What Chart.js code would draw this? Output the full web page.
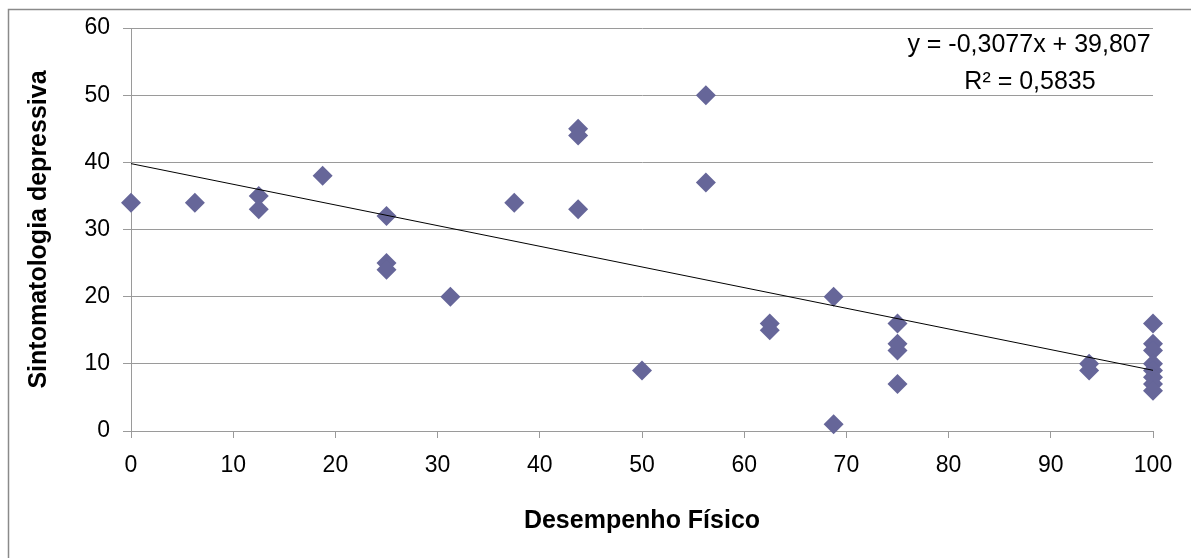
<!DOCTYPE html>
<html>
<head>
<meta charset="utf-8">
<script src="https://cdn.jsdelivr.net/npm/chart.js@4.4.1/dist/chart.umd.min.js"></script>
<style>
  html, body { margin: 0; padding: 0; background: #ffffff; }
  #wrap { width: 1191px; height: 558px; position: relative; }
</style>
</head>
<body>
<div id="wrap"><canvas id="c"></canvas></div>
<script>
// ---- Data ----
const xValues = [0, 6.25, 12.5, 12.5, 18.75, 25, 25, 25, 31.25, 37.5,
                 43.75, 43.75, 43.75, 50, 56.25, 56.25, 62.5, 62.5, 68.75, 68.75,
                 75, 75, 75, 75, 93.75, 93.75,
                 100, 100, 100, 100, 100, 100, 100, 100];
const yValues = [34, 34, 35, 33, 38, 32, 25, 24, 20, 34,
                 45, 44, 33, 9, 50, 37, 16, 15, 20, 1,
                 16, 13, 12, 7, 10, 9,
                 16, 13, 12, 10, 9, 8, 7, 6];
const trendSlope = -0.3077;
const trendIntercept = 39.807;
const rSquared = 0.5835;
const xTitle = 'Desempenho Físico';
const yTitle = 'Sintomatologia depressiva';
const xRange = [0, 100];
const yRange = [0, 60];

const fmt = (v) => String(v).replace('.', ',');
const points = xValues.map((x, i) => ({ x: x, y: yValues[i] }));
const trendPoints = xRange.map(x => ({ x: x, y: trendSlope * x + trendIntercept }));
const eqLine1 = 'y = ' + fmt(trendSlope) + 'x + ' + fmt(trendIntercept);
const eqLine2 = 'R² = ' + fmt(rSquared);

const FONT = '"Liberation Sans", Arial, sans-serif';
const GRID = '#9a9a9a';

const decorPlugin = {
  id: 'decor',
  beforeDraw(chart) {
    const ctx = chart.ctx;
    ctx.save();
    ctx.fillStyle = '#ffffff';
    ctx.fillRect(0, 0, chart.width, chart.height);
    ctx.strokeStyle = '#8a8a8a';
    ctx.lineWidth = 1.5;
    ctx.strokeRect(8.5, 9.5, chart.width + 20, chart.height + 20);
    ctx.restore();
  },
  afterDraw(chart) {
    const ctx = chart.ctx;
    ctx.save();
    ctx.fillStyle = '#000000';
    ctx.font = '25px ' + FONT;
    ctx.textAlign = 'center';
    ctx.textBaseline = 'middle';
    ctx.fillText(eqLine1, 1029, 45);
    ctx.fillText(eqLine2, 1030, 82);
    ctx.restore();
  }
};

new Chart(document.getElementById('c'), {
  type: 'scatter',
  data: {
    datasets: [
      {
        type: 'line',
        label: 'Linear',
        data: trendPoints,
        borderColor: '#000000',
        borderWidth: 1,
        pointRadius: 0,
        fill: false,
        tension: 0,
        clip: false
      },
      {
        label: 'Dados',
        data: points,
        pointStyle: 'rectRot',
        pointRadius: 10,
        pointHoverRadius: 10,
        backgroundColor: '#666699',
        borderColor: '#666699',
        borderWidth: 0,
        clip: false
      }
    ]
  },
  options: {
    responsive: true,
    maintainAspectRatio: false,
    animation: false,
    layout: { padding: { left: 0, top: 28, right: 38, bottom: 0 } },
    plugins: {
      legend: { display: false },
      tooltip: { enabled: false }
    },
    scales: {
      x: {
        type: 'linear',
        min: xRange[0],
        max: xRange[1],
        afterFit(scale) { scale.height = 127; },
        ticks: {
          stepSize: 10,
          color: '#000000',
          font: { family: FONT, size: 23 },
          padding: 14,
          maxRotation: 0
        },
        grid: {
          drawOnChartArea: false,
          drawTicks: true,
          tickLength: 7,
          color: GRID
        },
        border: { display: true, color: GRID, width: 1 },
        title: {
          display: true,
          text: xTitle,
          color: '#000000',
          font: { family: FONT, size: 25, weight: 'bold' },
          padding: { top: 0, bottom: 22 }
        }
      },
      y: {
        type: 'linear',
        min: yRange[0],
        max: yRange[1],
        afterFit(scale) { scale.width = 131; },
        ticks: {
          stepSize: 10,
          color: '#000000',
          font: { family: FONT, size: 23 },
          padding: 13
        },
        grid: {
          drawTicks: true,
          tickLength: 8,
          color: GRID
        },
        border: { display: true, color: GRID, width: 1 },
        title: {
          display: true,
          text: yTitle,
          color: '#000000',
          font: { family: FONT, size: 25, weight: 'bold' },
          padding: { top: 24, bottom: 0 }
        }
      }
    }
  },
  plugins: [decorPlugin]
});
</script>
</body>
</html>
